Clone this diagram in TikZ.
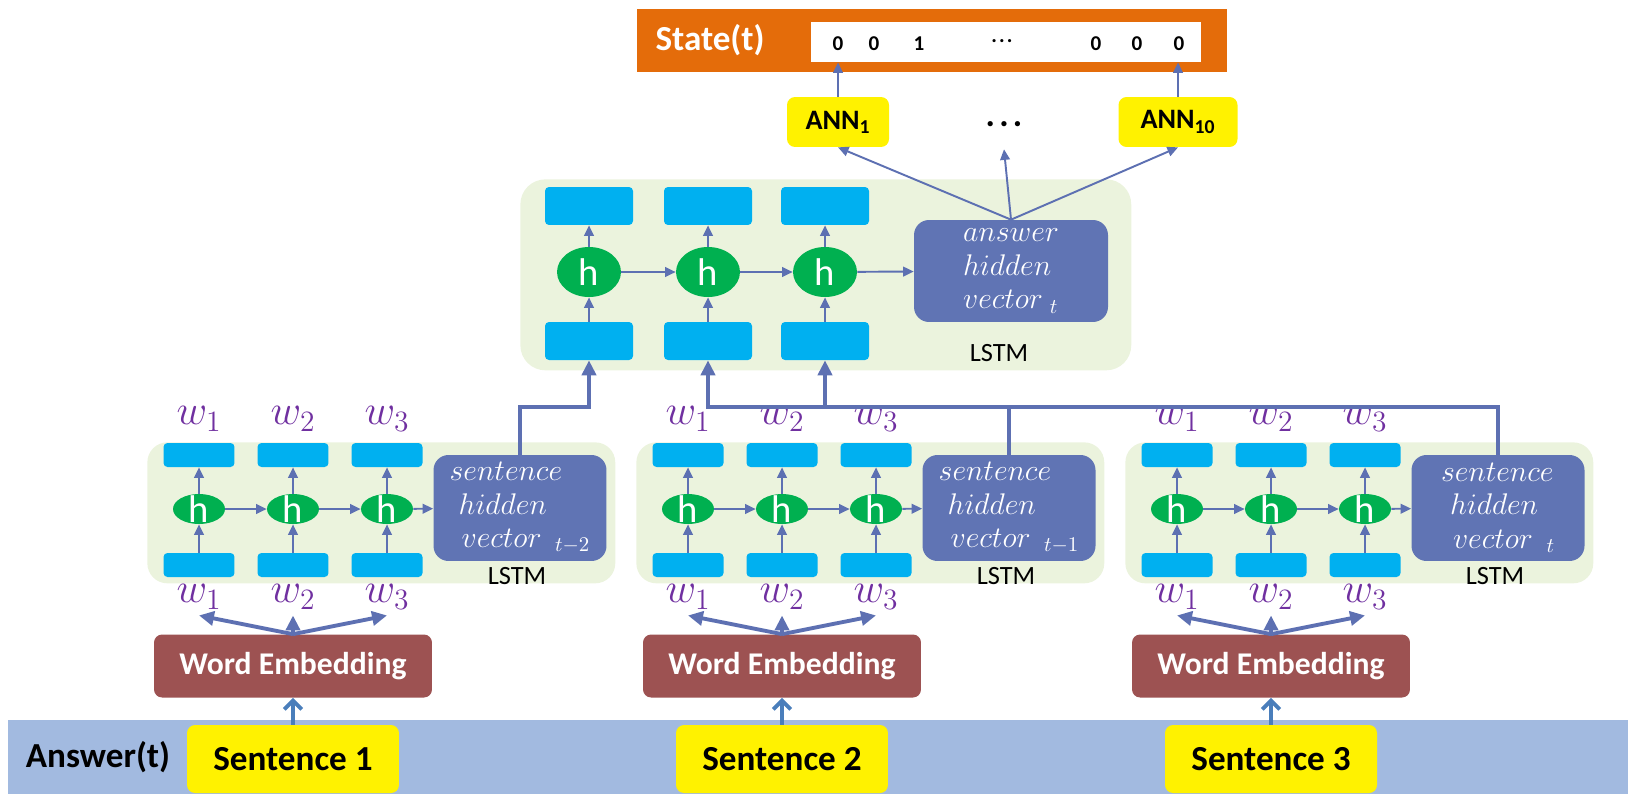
\RequirePackage{fix-cm}
\documentclass[tikz,border=0pt]{standalone}
\usepackage{fontspec}
\setmainfont{Carlito}
\usepackage{tikz}
\usetikzlibrary{arrows.meta}
\usetikzlibrary{shapes,positioning}
\definecolor{clorange}{RGB}{228,108,10}
\definecolor{clgreen}{RGB}{235,243,221}
\definecolor{clcyan}{RGB}{0,176,240}
\definecolor{clh}{RGB}{0,176,80}
\definecolor{clslate}{RGB}{96,116,180}
\definecolor{clline}{RGB}{93,112,178}
\definecolor{clbrown}{RGB}{157,82,82}
\definecolor{clbar}{RGB}{162,186,224}
\definecolor{clpurple}{RGB}{112,48,160}
\definecolor{clup}{RGB}{74,126,187}
\tikzstyle{container} = [rectangle, rounded corners=0.4cm, fill=clgreen, anchor=north west, inner sep=0pt]
\tikzstyle{cell} = [rectangle, rounded corners=0.08cm, fill=clcyan, inner sep=0pt, minimum width=1.42cm, minimum height=0.48cm]
\tikzstyle{bigcell} = [cell, minimum width=1.76cm, minimum height=0.76cm]
\tikzstyle{hnode} = [ellipse, fill=clh, inner sep=0pt, minimum width=1.04cm, minimum height=0.6cm, label={[text=white, font=\fontsize{22}{22}\selectfont]center:h}]
\tikzstyle{bighnode} = [hnode, minimum width=1.28cm, minimum height=1cm]
\tikzstyle{vecbox} = [rectangle, rounded corners=0.3cm, fill=clslate, text=white, align=left, inner sep=0pt, minimum width=3.46cm, minimum height=2.12cm, font=\fontsize{17}{19}\selectfont]
\tikzstyle{embed} = [rectangle, rounded corners=0.16cm, fill=clbrown, text=white, minimum width=5.56cm, minimum height=1.26cm, font=\fontsize{18}{22}\selectfont\bfseries]
\tikzstyle{sentence} = [rectangle, rounded corners=0.16cm, fill=yellow, minimum width=4.24cm, minimum height=1.36cm, font=\fontsize{20}{24}\selectfont\bfseries]
\tikzstyle{ann} = [rectangle, rounded corners=0.16cm, fill=yellow, minimum width=2.04cm, minimum height=1cm, font=\fontsize{16}{19}\selectfont\bfseries]
\tikzstyle{wlabel} = [text=clpurple, font=\fontsize{24}{28}\selectfont]
\tikzstyle{lstmlabel} = [font=\fontsize{15}{18}\selectfont]
\tikzstyle{digit} = [font=\fontsize{12}{14}\selectfont\bfseries]
\tikzstyle{line} = [draw=clline, line width=1.1pt, -{Triangle[length=6pt, width=5.5pt]}]
\tikzstyle{thickline} = [draw=clline, line width=2.2pt, -{Triangle[length=8.5pt, width=8pt]}]
\tikzstyle{upline} = [draw=clup, line width=2.2pt, -{Straight Barb[length=5pt, width=10pt]}]
\begin{document}
\begin{tikzpicture}[x=0.02cm, y=-0.02cm]
    \useasboundingbox (0,0) rectangle (1631,794);

    % input bar
    \node [rectangle, fill=clbar, anchor=north west, inner sep=0pt, minimum width=32.4cm, minimum height=1.48cm] (abar) at (8,720) {};
    \node [font=\fontsize{20}{24}\selectfont\bfseries] (atext) at (98,757) {Answer(t)};

    % sentence level LSTMs
    \foreach \i/\L/\sub in {1/147/{t-2}, 2/636/{t-1}, 3/1125/t} {
        \node [container, minimum width=9.36cm, minimum height=2.82cm] (lstm\i) at (\L,442) {};
        \node [cell] (ta\i) at (\L+52,455) {};
        \node [cell] (tb\i) at (\L+146,455) {};
        \node [cell] (tc\i) at (\L+240,455) {};
        \node [hnode] (ha\i) at (\L+52,509) {};
        \node [hnode] (hb\i) at (\L+146,509) {};
        \node [hnode] (hc\i) at (\L+240,509) {};
        \node [cell] (ba\i) at (\L+52,565) {};
        \node [cell] (bb\i) at (\L+146,565) {};
        \node [cell] (bc\i) at (\L+240,565) {};
        \node [vecbox] (sv\i) at (\L+373,508) {$sentence$\\ \hspace*{0.3em}$hidden$\\ \hspace*{0.4em}$vector\ \ {}_{\sub}$};
        \node [lstmlabel] (lt\i) at (\L+370,576) {LSTM};

        \node [wlabel] (wta\i) at (\L+52,419) {$w_1$};
        \node [wlabel] (wtb\i) at (\L+146,419) {$w_2$};
        \node [wlabel] (wtc\i) at (\L+240,419) {$w_3$};
        \node [wlabel] (wba\i) at (\L+52,597) {$w_1$};
        \node [wlabel] (wbb\i) at (\L+146,597) {$w_2$};
        \node [wlabel] (wbc\i) at (\L+240,597) {$w_3$};

        \node [embed] (we\i) at (\L+146,666) {Word Embedding};
        \node [sentence] (sen\i) at (\L+146,759) {Sentence \i};

        \path [line] (ba\i) -- (ha\i);
        \path [line] (bb\i) -- (hb\i);
        \path [line] (bc\i) -- (hc\i);
        \path [line] (ha\i) -- (ta\i);
        \path [line] (hb\i) -- (tb\i);
        \path [line] (hc\i) -- (tc\i);
        \path [line] (ha\i) -- (hb\i);
        \path [line] (hb\i) -- (hc\i);
        \path [line] (hc\i) -- (sv\i);

        \path [thickline] (we\i.north) -- (wba\i.south);
        \path [thickline] (we\i.north) -- (wbb\i.south);
        \path [thickline] (we\i.north) -- (wbc\i.south);
        \path [upline] (sen\i) -- (we\i);
    }

    % answer level LSTM
    \node [container, rounded corners=0.5cm, minimum width=12.22cm, minimum height=3.82cm] (lstm) at (520,179) {};
    \node [bigcell] (out1) at (589,206) {};
    \node [bigcell] (out2) at (708,206) {};
    \node [bigcell] (out3) at (825,206) {};
    \node [bighnode] (uh1) at (589,272) {};
    \node [bighnode] (uh2) at (708,272) {};
    \node [bighnode] (uh3) at (825,272) {};
    \node [bigcell] (in1) at (589,341) {};
    \node [bigcell] (in2) at (708,341) {};
    \node [bigcell] (in3) at (825,341) {};
    \node [vecbox, minimum width=3.88cm, minimum height=2.04cm] (ahv) at (1011,271) {$answer$\\ $hidden$\\ $vector\ {}_t$};
    \node [lstmlabel] (ult) at (999,353) {LSTM};

    \path [line] (in1) -- (uh1);
    \path [line] (in2) -- (uh2);
    \path [line] (in3) -- (uh3);
    \path [line] (uh1) -- (out1);
    \path [line] (uh2) -- (out2);
    \path [line] (uh3) -- (out3);
    \path [line] (uh1) -- (uh2);
    \path [line] (uh2) -- (uh3);
    \path [line] (uh3) -- (ahv);

    \coordinate (bus) at (0,407);
    \path [thickline] (sv1.north) |- (in1 |- bus) -- (in1.south);
    \path [thickline] (sv2.north) |- (in2 |- bus) -- (in2.south);
    \path [thickline] (sv3.north) |- (in3 |- bus) -- (in3.south);

    % classifiers and state
    \node [ann] (ann1) at (838,122) {ANN\textsubscript{1}};
    \node [minimum height=1cm, font=\fontsize{20}{24}\selectfont\bfseries] (annd) at (1004,124) {.\hspace{0.12em}.\hspace{0.12em}.};
    \node [ann, minimum width=2.38cm] (ann10) at (1178,122) {ANN\textsubscript{10}};

    \node [rectangle, fill=clorange, minimum width=11.8cm, minimum height=1.26cm] (state) at (932,40.5) {};
    \node [rectangle, fill=white, minimum width=7.8cm, minimum height=0.8cm] (stvec) at (1006,42) {};
    \node [text=white, font=\fontsize{20}{24}\selectfont\bfseries] (stlabel) at (710,40) {State(t)};
    \node [digit] (d1) at (838,44) {0};
    \node [digit] (d2) at (874,44) {0};
    \node [digit] (d3) at (919,44) {1};
    \node [digit] (d4) at (1002,41) {.\hspace{0.1em}.\hspace{0.1em}.};
    \node [digit] (d5) at (1096,44) {0};
    \node [digit] (d6) at (1137,44) {0};
    \node [digit] (d7) at (1179,44) {0};

    \path [line] (ahv.north) -- (ann1.south);
    \path [line] (ahv.north) -- (annd.south);
    \path [line] (ahv.north) -- (ann10.south);
    \path [line] (ann1) -- (ann1 |- stvec.south);
    \path [line] (ann10) -- (ann10 |- stvec.south);
\end{tikzpicture}
\end{document}
